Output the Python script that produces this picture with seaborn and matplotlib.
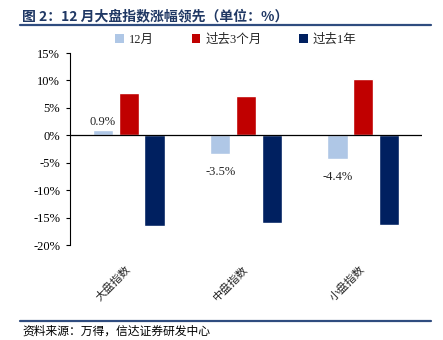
import matplotlib
matplotlib.use("Agg")
import matplotlib.pyplot as plt
from matplotlib.patches import Patch
from matplotlib.lines import Line2D
import seaborn as sns
import pandas as pd

categories = ["大盘指数", "中盘指数", "小盘指数"]
series_names = ["12月", "过去3个月", "过去1年"]
dec_vals = [0.9, -3.5, -4.4]
three_month_vals = [7.7, 7.1, 10.2]
one_year_vals = [-16.5, -15.9, -16.4]
colors = ["#AFC7E6", "#C00000", "#002060"]
yticks = [-20, -15, -10, -5, 0, 5, 10, 15]

sns.set_style("white")
plt.rcParams["font.family"] = ["Liberation Serif", "Noto Sans CJK SC"]

rows = []
for name, vals in zip(series_names, [dec_vals, three_month_vals, one_year_vals]):
    for c, v in zip(categories, vals):
        rows.append({"cat": c, "series": name, "val": v})
df = pd.DataFrame(rows)

fig = plt.figure(figsize=(4.43, 3.40), dpi=100)
ax = fig.add_axes([70 / 443, 1 - 245 / 340, 352 / 443, 192 / 340])

sns.barplot(data=df, x="cat", y="val", hue="series", order=categories,
            hue_order=series_names, palette=colors, width=0.66, gap=0.22,
            saturation=1, errorbar=None, ax=ax, legend=False)

ax.set_ylim(-20, 15)
ax.set_xlim(-0.5, 2.5)
ax.set_yticks(yticks)
ax.set_yticklabels([f"{t}%" for t in yticks], fontsize=9)
ax.set_xlabel("")
ax.set_ylabel("")
for s in ["top", "right", "bottom"]:
    ax.spines[s].set_visible(False)
ax.spines["left"].set_color("black")
ax.spines["left"].set_linewidth(0.8)
ax.tick_params(axis="y", which="major", left=True, direction="out", length=3,
               width=0.8, pad=4, colors="black")
ax.axhline(0, color="black", linewidth=0.9, zorder=3)

ax.set_xticks(range(len(categories)))
ax.set_xticklabels(categories, rotation=45, ha="right", va="center",
                   rotation_mode="anchor", fontsize=8, family=["Noto Sans CJK SC"])
ax.tick_params(axis="x", length=0, pad=16)

# value labels on the 12月 bars
dec_bars = ax.containers[0]
for bar, v in zip(dec_bars, dec_vals):
    x = bar.get_x() + bar.get_width() / 2
    if v >= 0:
        ax.annotate(f"{v}%", (x, v), xytext=(0, 2), textcoords="offset points",
                    ha="center", va="bottom", fontsize=9)
    else:
        ax.annotate(f"{v}%", (x, v), xytext=(0, -8), textcoords="offset points",
                    ha="center", va="top", fontsize=9)

handles = [Patch(facecolor=c, edgecolor="none") for c in colors]
fig.legend(handles, series_names, loc="center", bbox_to_anchor=(236 / 443, 1 - 40 / 340),
           ncol=3, frameon=False, fontsize=9, handlelength=0.7, handleheight=0.7,
           handletextpad=0.4, columnspacing=3.0)

fig.text(22 / 443, 1 - 16 / 340, "图 2：12 月大盘指数涨幅领先（单位：%）",
         family=["Noto Sans CJK SC"], fontsize=10, fontweight="bold",
         color="#203864", ha="left", va="center")
fig.add_artist(Line2D([20 / 443, 431 / 443], [1 - 25 / 340, 1 - 25 / 340],
                      color="#2F4C7F", linewidth=1.6))
fig.add_artist(Line2D([20 / 443, 431 / 443], [1 - 321 / 340, 1 - 321 / 340],
                      color="#2F4C7F", linewidth=1.6))
fig.text(22 / 443, 1 - 331 / 340, "资料来源：万得，信达证券研发中心",
         family=["Noto Sans CJK SC"], fontsize=8.5, style="italic",
         color="black", ha="left", va="center")

fig.savefig("out.png", dpi=100)
